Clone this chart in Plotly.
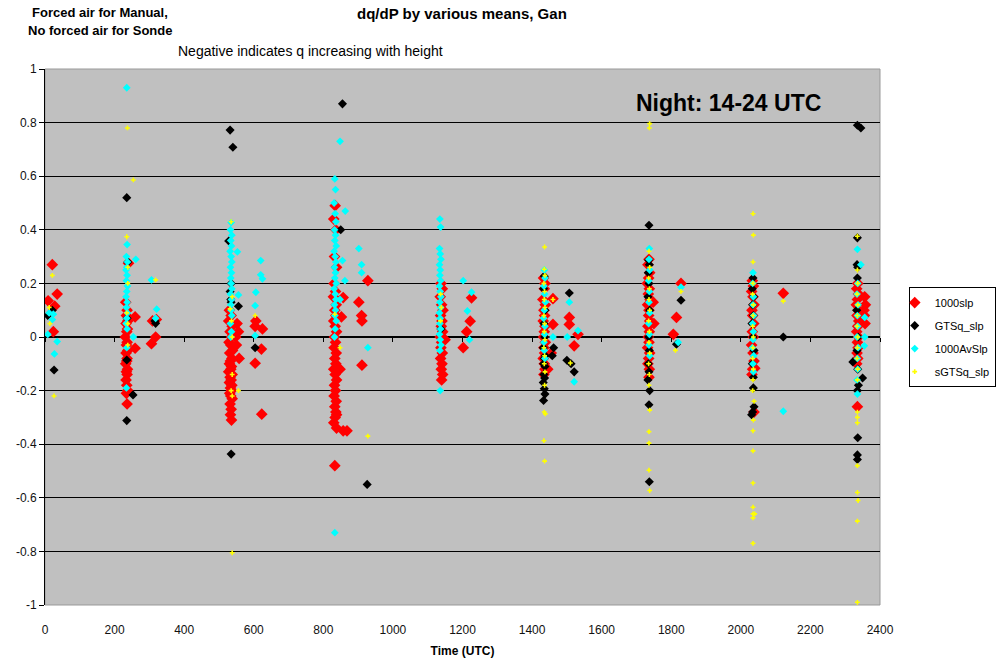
import plotly.graph_objects as go

# ---------------- data ----------------
# Series 1: 1000slp  (red)
slp1000_t = (
    [9, 21, 35, 28, 24]
    + [232, 236, 234, 238, 233, 237, 235, 231, 236, 234, 238, 233, 236, 235, 232, 237, 234, 236, 233, 235, 238, 234, 236, 240]
    + [259, 259, 306, 318, 320, 309]
    + [530, 535, 528, 538, 532, 536, 529, 534, 539, 531, 537, 533, 530, 536, 534, 528, 538, 532, 535, 530, 537, 533, 536, 531, 534, 538, 532, 535, 533, 536]
    + [552, 556, 550, 558, 548]
    + [606, 604, 625, 604, 622, 623]
    + [834, 830, 836, 832, 838, 831, 835, 829, 837, 833, 836, 830, 834, 838, 832, 835, 831, 837, 833, 836, 830, 834, 838, 832, 835, 831, 837, 833, 836, 834, 830, 838, 833]
    + [928, 902, 910, 911, 911, 857, 852, 848, 857, 838, 868]
    + [1138, 1142, 1136, 1140, 1144, 1137, 1141, 1139, 1143, 1136, 1140, 1138, 1142, 1137, 1141, 1139, 1143, 1140]
    + [1150, 1226, 1222, 1212, 1202]
    + [1433, 1437, 1435, 1431, 1438, 1434, 1436, 1432, 1437, 1435, 1433, 1438, 1434, 1436, 1432, 1435, 1437, 1434]
    + [1460, 1460, 1455, 1445]
    + [1507, 1507, 1532, 1521]
    + [1736, 1733, 1738, 1735, 1731, 1737, 1734, 1739, 1732, 1736, 1735, 1738, 1733, 1737, 1734, 1736, 1732, 1738, 1735, 1733, 1737, 1736]
    + [1748, 1750]
    + [1815, 1806, 1828]
    + [2033, 2036, 2031, 2035, 2038, 2032, 2034, 2037, 2033, 2036, 2031, 2035, 2038, 2034, 2032, 2040]
    + [2038, 2122]
    + [2336, 2333, 2338, 2335, 2332, 2337, 2334, 2339, 2336, 2333, 2338, 2335, 2337, 2334, 2336, 2333, 2335]
    + [2356, 2358, 2355, 2357, 2354]
)
slp1000_q = (
    [0.135, 0.27, 0.16, 0.115, 0.02]
    + [0.13, 0.10, 0.08, 0.06, 0.05, 0.03, 0.02, 0.00, -0.02, -0.03, -0.05, -0.06, -0.08, -0.09, -0.10, -0.12, -0.13, -0.14, -0.16, -0.18, -0.20, -0.21, -0.25, 0.275]
    + [0.075, -0.042, -0.025, 0.0, 0.065, 0.06]
    + [0.10, 0.08, 0.06, 0.04, 0.02, 0.00, -0.02, -0.03, -0.05, -0.06, -0.08, -0.09, -0.10, -0.11, -0.12, -0.13, -0.14, -0.15, -0.16, -0.17, -0.18, -0.19, -0.20, -0.21, -0.22, -0.23, -0.25, -0.27, -0.29, -0.31]
    + [0.05, 0.02, -0.03, -0.08, 0.00]
    + [0.06, 0.04, 0.03, -0.098, -0.045, -0.288]
    + [0.49, 0.44, 0.40, 0.30, 0.26, 0.20, 0.17, 0.15, 0.12, 0.10, 0.08, 0.06, 0.04, 0.02, 0.00, -0.02, -0.04, -0.06, -0.08, -0.10, -0.12, -0.14, -0.16, -0.18, -0.20, -0.22, -0.24, -0.26, -0.28, -0.30, -0.32, -0.34, -0.48]
    + [0.21, 0.13, 0.08, 0.06, -0.105, 0.147, 0.075, -0.12, -0.35, -0.29, -0.35]
    + [0.20, 0.18, 0.15, 0.12, 0.10, 0.08, 0.06, 0.04, 0.02, 0.00, -0.02, -0.04, -0.06, -0.08, -0.10, -0.12, -0.14, -0.16]
    + [-0.01, 0.146, 0.059, 0.02, -0.04]
    + [0.22, 0.20, 0.18, 0.14, 0.12, 0.10, 0.08, 0.06, 0.04, 0.02, 0.00, -0.02, -0.04, -0.06, -0.08, -0.10, -0.12, -0.14]
    + [0.143, 0.047, -0.06, -0.12]
    + [0.073, 0.047, 0.01, -0.033]
    + [0.29, 0.27, 0.24, 0.22, 0.20, 0.18, 0.16, 0.14, 0.12, 0.10, 0.08, 0.06, 0.04, 0.02, 0.00, -0.02, -0.04, -0.06, -0.08, -0.10, -0.12, -0.15]
    + [0.13, 0.05]
    + [0.073, 0.01, 0.2]
    + [0.21, 0.19, 0.17, 0.15, 0.12, 0.10, 0.08, 0.05, 0.02, 0.00, -0.03, -0.06, -0.09, -0.12, -0.14, -0.117]
    + [-0.28, 0.163]
    + [0.20, 0.18, 0.16, 0.14, 0.12, 0.10, 0.08, 0.06, 0.04, 0.02, 0.00, -0.02, -0.04, -0.06, -0.08, -0.10, -0.26]
    + [0.15, 0.12, 0.08, 0.05, 0.10]
)

# Series 2: GTSq_slp  (black)
gtsq_t = (
    [8, 21, 26]
    + [235, 238, 236, 235, 235, 253, 318, 316]
    + [532, 540, 528, 535, 532, 535, 556, 534, 535, 604]
    + [855, 850, 926]
    + [1138]
    + [1435, 1433, 1437, 1434, 1436, 1432, 1438, 1435, 1433, 1437, 1434, 1436, 1432, 1435, 1437, 1433]
    + [1462, 1458, 1507, 1500, 1512, 1521]
    + [1736, 1735, 1737, 1734, 1736, 1733, 1738, 1735, 1737, 1734, 1736, 1733, 1738, 1736, 1737]
    + [1815, 1828]
    + [2035, 2033, 2037, 2034, 2036, 2032, 2035, 2038, 2033, 2036, 2036, 2038, 2031, 2034]
    + [2122]
    + [2335, 2345, 2335, 2334, 2336, 2335, 2333, 2337, 2334, 2336, 2322, 2338, 2335, 2336, 2335, 2335, 2350]
)
gtsq_q = (
    [0.08, 0.10, -0.123]
    + [0.52, 0.28, 0.07, -0.086, -0.312, -0.216, 0.051, 0.06]
    + [0.772, 0.708, 0.358, 0.20, 0.17, 0.13, 0.115, 0.14, -0.437, -0.04]
    + [0.87, 0.40, -0.55]
    + [0.03]
    + [0.227, 0.18, 0.10, 0.05, 0.00, -0.04, -0.07, -0.08, -0.10, -0.11, -0.14, -0.153, -0.17, -0.193, -0.213, -0.237]
    + [-0.04, -0.07, 0.164, -0.087, -0.10, -0.13]
    + [0.417, 0.287, 0.27, 0.24, 0.20, 0.15, 0.10, 0.00, -0.05, -0.10, -0.13, -0.16, -0.20, -0.253, -0.54]
    + [-0.027, 0.137]
    + [0.22, 0.18, 0.15, 0.12, 0.08, 0.05, 0.00, -0.05, -0.10, -0.15, -0.19, -0.26, -0.29, -0.28]
    + [0.0]
    + [0.79, 0.78, 0.37, 0.27, 0.26, 0.22, 0.10, 0.00, -0.05, -0.12, -0.093, -0.18, -0.20, -0.376, -0.44, -0.457, -0.153]
)

# Series 3: 1000AvSlp  (cyan)
avslp_t = (
    [12, 8, 21, 24, 35, 27]
    + [235, 236, 234, 237, 235, 233, 236, 234, 237, 235, 233, 236, 234, 237, 235, 233, 236, 235, 234]
    + [261, 254, 306, 321, 318]
    + [535, 533, 537, 534, 536, 532, 535, 537, 533, 536, 534, 535, 537, 533, 536, 534, 535, 537, 533, 536, 534]
    + [553, 556, 620, 620, 625, 606, 604, 604]
    + [833, 835, 831, 834, 836, 832, 835, 833, 837, 831, 834, 836, 832, 835, 833, 837, 831, 834, 836, 832, 835, 833, 837, 834, 832]
    + [848, 863, 855, 862, 902, 910, 910, 928, 833, 848]
    + [1135, 1137, 1134, 1136, 1138, 1134, 1136, 1135, 1137, 1134, 1136, 1138, 1135, 1137, 1134, 1136, 1135, 1137, 1134, 1136, 1138, 1135, 1136]
    + [1202, 1226, 1214, 1220]
    + [1435, 1437, 1434, 1436, 1438, 1435, 1433, 1437, 1436, 1434, 1435, 1437]
    + [1460, 1507, 1501, 1532, 1521]
    + [1737, 1736, 1738, 1735, 1737, 1736, 1738, 1735, 1737, 1736, 1738]
    + [1820, 1828]
    + [2035, 2034, 2036, 2035, 2037, 2034, 2036, 2035, 2033, 2037, 2035, 2036]
    + [2122]
    + [2335, 2345, 2336, 2334, 2337, 2335, 2336, 2334, 2337, 2335, 2336, 2334, 2335]
    + [2356, 2356, 2355]
)
avslp_q = (
    [0.09, 0.01, 0.065, 0.085, -0.017, -0.063]
    + [0.93, 0.345, 0.30, 0.28, 0.26, 0.25, 0.23, 0.21, 0.19, 0.17, 0.15, 0.13, 0.11, 0.09, 0.07, 0.05, 0.03, -0.04, -0.19]
    + [0.29, 0.0, 0.213, 0.104, 0.07]
    + [0.427, 0.40, 0.38, 0.36, 0.34, 0.32, 0.30, 0.28, 0.26, 0.24, 0.22, 0.20, 0.18, 0.16, 0.14, 0.12, 0.10, 0.08, 0.05, 0.02, 0.00]
    + [0.318, 0.157, 0.285, 0.232, 0.217, 0.167, 0.117, 0.005]
    + [0.59, 0.55, 0.50, 0.46, 0.43, 0.40, 0.38, 0.36, 0.34, 0.32, 0.30, 0.28, 0.26, 0.24, 0.22, 0.20, 0.18, 0.16, 0.14, 0.12, 0.10, 0.08, 0.06, 0.03, 0.00]
    + [0.73, 0.47, 0.285, 0.21, 0.33, 0.27, 0.24, -0.04, -0.73, 0.14]
    + [0.44, 0.41, 0.33, 0.31, 0.29, 0.27, 0.25, 0.23, 0.21, 0.19, 0.17, 0.15, 0.13, 0.11, 0.09, 0.07, 0.05, 0.03, 0.01, -0.01, -0.03, -0.05, -0.20]
    + [0.21, 0.167, 0.097, -0.01]
    + [0.25, 0.22, 0.19, 0.16, 0.13, 0.10, 0.07, 0.04, 0.01, -0.02, -0.05, -0.08]
    + [0.0, 0.13, 0.0, 0.024, -0.167]
    + [0.33, 0.29, 0.25, 0.21, 0.17, 0.13, 0.09, 0.05, 0.01, -0.03, -0.07]
    + [-0.02, 0.186]
    + [0.24, 0.20, 0.15, 0.12, 0.08, 0.05, 0.02, -0.01, -0.04, -0.07, -0.10, -0.13]
    + [-0.277]
    + [0.327, 0.27, 0.20, 0.16, 0.12, 0.08, 0.04, 0.00, -0.04, -0.08, -0.12, -0.16, -0.213]
    + [0.073, 0.0, -0.033]
)

# Series 4: sGTSq_slp  (yellow)
sgtsq_t = (
    [21, 12, 14, 26]
    + [237, 254, 235, 238, 238, 238, 238, 235, 318]
    + [535, 538, 536, 538, 538, 535, 538, 556, 538, 604, 532]
    + [833, 848, 928]
    + [1137, 1139, 1137]
    + [1436, 1435, 1437, 1434, 1436, 1435, 1437, 1434, 1436, 1435, 1437, 1434, 1436, 1435, 1437, 1436, 1435, 1438, 1434, 1436]
    + [1460, 1510]
    + [1738, 1737, 1736, 1738, 1735, 1737, 1736, 1738, 1735, 1737, 1736, 1738, 1735, 1737, 1736, 1738, 1736, 1736, 1736, 1738]
    + [1828, 1812]
    + [2035, 2036, 2035, 2035, 2034, 2036, 2035, 2034, 2036, 2035, 2034, 2036, 2035, 2034, 2038, 2036, 2035, 2035, 2035, 2035, 2040, 2035, 2035, 2035]
    + [2122]
    + [2335, 2335, 2336, 2334, 2336, 2335, 2334, 2336, 2335, 2334, 2336, 2335, 2335, 2335, 2335, 2335, 2335, 2337, 2335, 2335]
)
sgtsq_q = (
    [0.23, 0.11, 0.05, -0.22]
    + [0.78, 0.586, 0.374, 0.26, 0.20, 0.05, -0.03, 0.09, 0.213]
    + [0.43, 0.15, 0.06, 0.0, -0.14, -0.20, -0.22, -0.20, -0.805, 0.08, 0.105]
    + [0.085, -0.04, -0.37]
    + [0.16, 0.11, 0.06]
    + [0.336, 0.253, 0.23, 0.20, 0.17, 0.14, 0.11, 0.08, 0.05, 0.02, -0.01, -0.04, -0.07, -0.10, -0.13, -0.18, -0.28, -0.287, -0.387, -0.463]
    + [0.14, -0.097]
    + [0.796, 0.78, 0.32, 0.26, 0.22, 0.18, 0.14, 0.10, 0.06, 0.02, -0.02, -0.06, -0.10, -0.14, -0.18, -0.273, -0.353, -0.396, -0.497, -0.573]
    + [0.17, -0.05]
    + [0.46, 0.38, 0.28, 0.20, 0.16, 0.12, 0.08, 0.04, 0.00, -0.04, -0.08, -0.12, -0.16, -0.20, -0.24, -0.31, -0.35, -0.425, -0.545, -0.635, -0.66, -0.66, -0.675, -0.77]
    + [0.134]
    + [0.376, 0.25, 0.20, 0.16, 0.12, 0.08, 0.04, 0.00, -0.04, -0.08, -0.12, -0.16, -0.28, -0.30, -0.32, -0.48, -0.58, -0.61, -0.687, -0.99]
)

x_ticks = [0, 200, 400, 600, 800, 1000, 1200, 1400, 1600, 1800, 2000, 2200, 2400]
y_ticks = [-1, -0.8, -0.6, -0.4, -0.2, 0, 0.2, 0.4, 0.6, 0.8, 1]
y_tick_text = ["-1", "-0.8", "-0.6", "-0.4", "-0.2", "0", "0.2", "0.4", "0.6", "0.8", "1"]

series = [
    ("1000slp", slp1000_t, slp1000_q, "#FF0000", "diamond", 9),
    ("GTSq_slp", gtsq_t, gtsq_q, "#000000", "diamond", 7),
    ("1000AvSlp", avslp_t, avslp_q, "#00FFFF", "diamond", 6),
    ("sGTSq_slp", sgtsq_t, sgtsq_q, "#FFFF00", "cross", 4),
]

FONT = "Liberation Sans, Arial, sans-serif"

fig = go.Figure()
for name, t, q, col, sym, sz in series:
    assert len(t) == len(q), (name, len(t), len(q))
    fig.add_trace(go.Scatter(
        x=t, y=q, mode="markers", name=name, legendgroup=name,
        marker=dict(color=col, symbol=sym, size=sz, line=dict(width=0)),
    ))

# invisible helper trace so the tick-mark axis on the zero line is drawn
fig.add_trace(go.Scatter(x=[x_ticks[0]], y=[0], xaxis="x2", mode="markers",
                         marker=dict(opacity=0), showlegend=False, hoverinfo="skip"))

fig.update_layout(
    width=1003, height=663,
    margin=dict(l=45, r=123, t=69, b=58, autoexpand=False),
    paper_bgcolor="white", plot_bgcolor="#C0C0C0",
    font=dict(family=FONT, size=12, color="#000000"),
    xaxis=dict(
        range=[0, 2400], tickvals=x_ticks, showgrid=False, zeroline=False,
        showline=False, ticks="outside", ticklen=14, tickcolor="rgba(0,0,0,0)",
        tickfont=dict(size=12, color="#111111"),
        title=dict(text="<b>Time (UTC)</b>", font=dict(size=12), standoff=10),
    ),
    xaxis2=dict(
        overlaying="x", matches="x", anchor="free", position=0.5, side="bottom",
        range=[0, 2400], tickvals=x_ticks, ticks="outside", ticklen=4, tickwidth=1,
        tickcolor="#000000", showticklabels=False, showgrid=False, zeroline=False,
        showline=False,
    ),
    yaxis=dict(
        range=[-1, 1], tickvals=y_ticks, ticktext=y_tick_text,
        showgrid=True, gridcolor="#000000", gridwidth=1,
        zeroline=True, zerolinecolor="#000000", zerolinewidth=2,
        showline=True, linecolor="#000000", linewidth=1,
        ticks="outside", ticklen=5, tickcolor="#000000",
        tickfont=dict(size=12, color="#111111"),
    ),
    legend=dict(
        xref="container", yref="container", x=0.906, y=0.567,
        xanchor="left", yanchor="top",
        bgcolor="white", bordercolor="#000000", borderwidth=1,
        font=dict(size=11), tracegroupgap=4, traceorder="grouped",
        itemwidth=30, indentation=-15,
    ),
    showlegend=True,
)

# light grey frame of the plot area
fig.add_shape(type="rect", xref="paper", yref="paper", x0=0, x1=1, y0=0, y1=1,
              line=dict(color="#999999", width=1), layer="below")

fig.add_annotation(text="<b>dq/dP by various means, Gan</b>", xref="paper", yref="paper",
                   x=(462 - 45) / 835, y=(605 - 14) / 536, showarrow=False, font=dict(size=15),
                   xanchor="center", yanchor="middle")
fig.add_annotation(text="<b>Forced air for Manual,</b>", xref="paper", yref="paper",
                   x=(100 - 45) / 835, y=(605 - 12) / 536, showarrow=False, font=dict(size=13),
                   xanchor="center", yanchor="middle")
fig.add_annotation(text="<b>No forced air for Sonde</b>", xref="paper", yref="paper",
                   x=(100 - 45) / 835, y=(605 - 30) / 536, showarrow=False, font=dict(size=13),
                   xanchor="center", yanchor="middle")
fig.add_annotation(text="Negative indicates q increasing with height", xref="paper", yref="paper",
                   x=(310 - 45) / 835, y=(605 - 51) / 536, showarrow=False, font=dict(size=14),
                   xanchor="center", yanchor="middle")
fig.add_annotation(text="<b>Night: 14-24 UTC</b>", xref="paper", yref="paper",
                   x=(728 - 45) / 835, y=(605 - 103) / 536, showarrow=False, font=dict(size=23),
                   xanchor="center", yanchor="middle")

fig.write_html("out.html")
